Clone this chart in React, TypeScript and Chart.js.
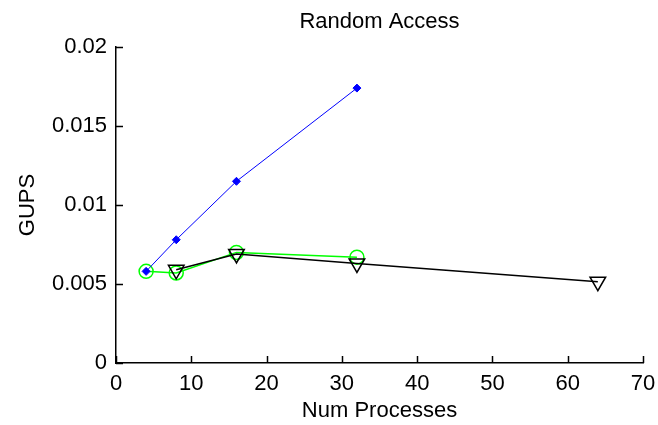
import React, { useEffect, useRef } from "react";
import { Chart, registerables } from "chart.js";

Chart.register(...registerables);

const chartTitle = "Random Access";
const xTitle = "Num Processes";
const yTitle = "GUPS";

const blueX = [4, 8, 16, 32];
const blueY = [0.0058, 0.0078, 0.0115, 0.0174];

const greenX = [4, 8, 16, 32];
const greenY = [0.0058, 0.0057, 0.007, 0.0067];

const blackX = [8, 16, 32, 64];
const blackY = [0.0059, 0.0069, 0.0063, 0.00515];

const xTicks = [0, 10, 20, 30, 40, 50, 60, 70];
const yTicks = [0, 0.005, 0.01, 0.015, 0.02];
const yTickLabels = ["0", "0.005", "0.01", "0.015", "0.02"];

const FONT = "'Liberation Sans', Arial, sans-serif";

const pts = (xs: number[], ys: number[]) => xs.map((x, i) => ({ x, y: ys[i] }));

const inwardTicks = {
  id: "inwardTicks",
  afterDraw(chart: any) {
    const ctx = chart.ctx;
    const xs = chart.scales.x;
    const ys = chart.scales.y;
    const area = chart.chartArea;
    const len = 7;
    ctx.save();
    ctx.strokeStyle = "#000";
    ctx.lineWidth = 1.5;
    ctx.beginPath();
    xs.ticks.forEach((t: any) => {
      const px = Math.round(xs.getPixelForValue(t.value)) + 0.5;
      ctx.moveTo(px, area.bottom);
      ctx.lineTo(px, area.bottom - len);
    });
    ys.ticks.forEach((t: any) => {
      const py = Math.round(ys.getPixelForValue(t.value)) + 0.5;
      ctx.moveTo(area.left, py);
      ctx.lineTo(area.left + len, py);
    });
    ctx.stroke();
    ctx.restore();
  },
};

export default function App() {
  const ref = useRef<HTMLCanvasElement>(null);

  useEffect(() => {
    if (!ref.current) return;
    Chart.defaults.font.family = FONT;
    Chart.defaults.color = "#000";
    const chart = new Chart(ref.current, {
      type: "line",
      data: {
        datasets: [
          {
            label: "blue",
            data: pts(blueX, blueY),
            borderColor: "#0000ff",
            backgroundColor: "#0000ff",
            borderWidth: 1,
            pointStyle: "rectRot",
            pointRadius: 4,
            pointBorderWidth: 1,
            pointBackgroundColor: "#0000ff",
            pointBorderColor: "#0000ff",
          },
          {
            label: "black",
            data: pts(blackX, blackY),
            borderColor: "#000000",
            borderWidth: 1.5,
            pointStyle: "triangle",
            pointRotation: 180,
            pointRadius: 9,
            pointBorderWidth: 1.5,
            pointBackgroundColor: "rgba(0,0,0,0)",
            pointBorderColor: "#000000",
          },
          {
            label: "green",
            data: pts(greenX, greenY),
            borderColor: "#00ff00",
            borderWidth: 1.5,
            pointStyle: "circle",
            pointRadius: 7,
            pointBorderWidth: 1.5,
            pointBackgroundColor: "rgba(0,0,0,0)",
            pointBorderColor: "#00ff00",
          },
        ],
      },
      options: {
        responsive: false,
        animation: false,
        devicePixelRatio: 1,
        layout: { padding: { top: 0, right: 15, bottom: 0, left: 0 } },
        elements: { line: { tension: 0, fill: false } },
        plugins: {
          legend: { display: false },
          tooltip: { enabled: false },
          title: {
            display: true,
            text: chartTitle,
            fullSize: false,
            color: "#000",
            font: { family: FONT, size: 22, weight: "normal", lineHeight: 1.2 },
            padding: { top: 8.5, bottom: 12.1 },
          },
        },
        scales: {
          x: {
            type: "linear",
            min: 0,
            max: 70,
            afterFit: (s: any) => {
              s.height = 62;
              s.paddingLeft = 0;
              s.paddingRight = 0;
            },
            afterBuildTicks: (s: any) => {
              s.ticks = xTicks.map((v) => ({ value: v }));
            },
            grid: { display: false, drawTicks: false },
            border: { display: true, color: "#000", width: 1.5 },
            ticks: {
              padding: 8,
              maxRotation: 0,
              color: "#000",
              font: { family: FONT, size: 22 },
              callback: (v: any) => String(v),
            },
            title: {
              display: true,
              text: xTitle,
              color: "#000",
              font: { family: FONT, size: 22, lineHeight: 1.2 },
              padding: { top: 0, bottom: 1 },
            },
          },
          y: {
            type: "linear",
            min: 0,
            max: 0.02,
            afterFit: (s: any) => {
              s.width = 116;
              s.paddingTop = 0;
              s.paddingBottom = 0;
            },
            afterBuildTicks: (s: any) => {
              s.ticks = yTicks.map((v) => ({ value: v }));
            },
            grid: { display: false, drawTicks: false },
            border: { display: true, color: "#000", width: 1.5 },
            ticks: {
              padding: 9,
              color: "#000",
              font: { family: FONT, size: 22 },
              callback: (v: any) => {
                const i = yTicks.findIndex((t) => Math.abs(t - v) < 1e-9);
                return i >= 0 ? yTickLabels[i] : "";
              },
            },
            title: {
              display: true,
              text: yTitle,
              color: "#000",
              font: { family: FONT, size: 22, lineHeight: 1.2 },
              padding: { top: 15, bottom: 0 },
            },
          },
        },
      },
      plugins: [inwardTicks],
    });
    return () => chart.destroy();
  }, []);

  return (
    <div style={{ position: "fixed", left: 0, top: 0, width: 658, height: 425, background: "#fff" }}>
      <canvas ref={ref} width={658} height={425} style={{ width: 658, height: 425 }} />
    </div>
  );
}
